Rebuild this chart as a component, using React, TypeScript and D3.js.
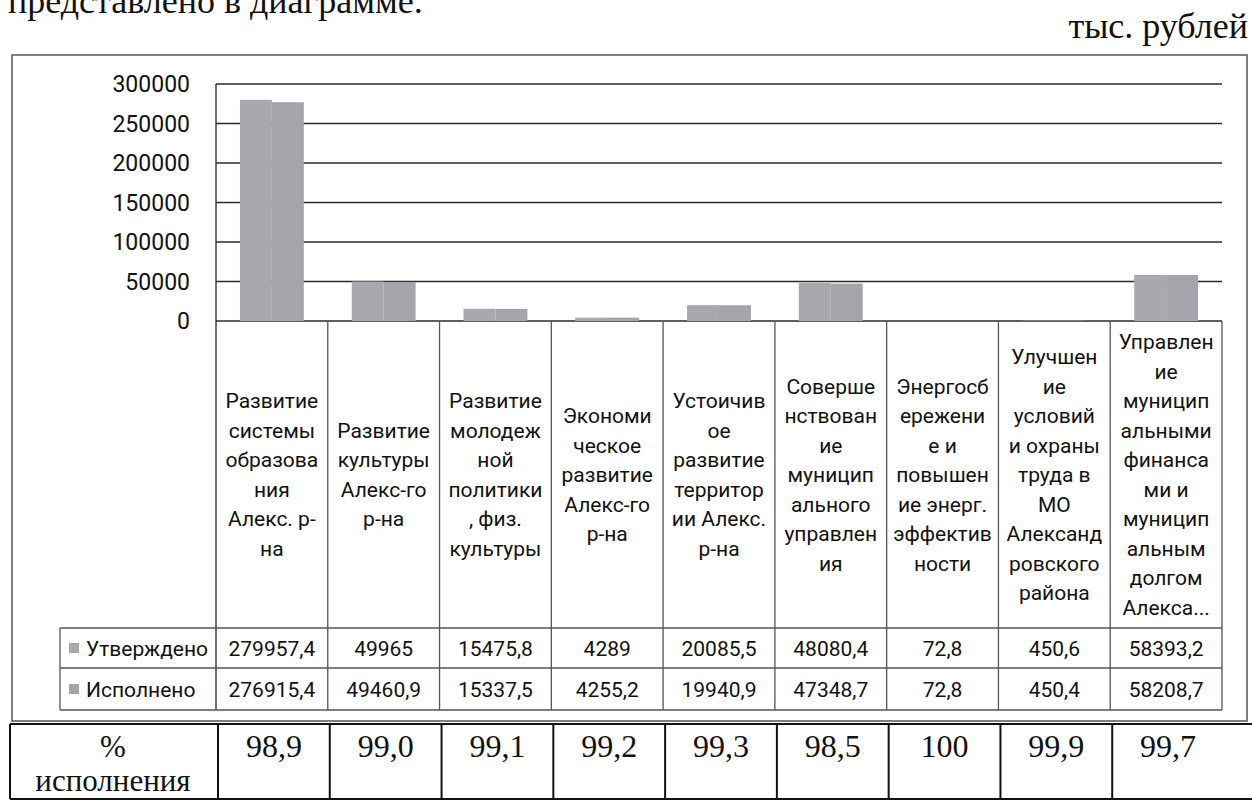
import * as d3 from 'd3';

// category labels, already wrapped the way Excel wrapped them
const categoryLines: string[][] = [
  ['Развитие', 'системы', 'образова', 'ния', 'Алекс. р-', 'на'],
  ['Развитие', 'культуры', 'Алекс-го', 'р-на'],
  ['Развитие', 'молодеж', 'ной', 'политики', ', физ.', 'культуры'],
  ['Экономи', 'ческое', 'развитие', 'Алекс-го', 'р-на'],
  ['Устоичив', 'ое', 'развитие', 'территор', 'ии Алекс.', 'р-на'],
  ['Соверше', 'нствован', 'ие', 'муницип', 'ального', 'управлен', 'ия'],
  ['Энергосб', 'ережени', 'е и', 'повышен', 'ие энерг.', 'эффектив', 'ности'],
  ['Улучшен', 'ие', 'условий', 'и охраны', 'труда в', 'МО', 'Александ', 'ровского', 'района'],
  ['Управлен', 'ие', 'муницип', 'альными', 'финанса', 'ми и', 'муницип', 'альным', 'долгом', 'Алекса...'],
];

const seriesNames = ['Утверждено', 'Исполнено'];
const approved = [279957.4, 49965, 15475.8, 4289, 20085.5, 48080.4, 72.8, 450.6, 58393.2];
const executed = [276915.4, 49460.9, 15337.5, 4255.2, 19940.9, 47348.7, 72.8, 450.4, 58208.7];
const percentDone = ['98,9', '99,0', '99,1', '99,2', '99,3', '98,5', '100', '99,9', '99,7'];

const W = 1252;
const H = 800;

const sans = 'Roboto, "Open Sans", sans-serif';
const serif = '"Liberation Serif", "Times New Roman", serif';

const fmt = (v: number) => String(v).replace('.', ',');

export default function App() {
  const plotLeft = 216;
  const plotRight = 1222;
  const plotTop = 84;
  const plotBottom = 321;
  const labelBottom = 628;
  const rowMid = 668;
  const tableBottom = 710;
  const legendLeft = 60;
  const pctTop = 724;
  const pctBottom = 799;

  const idx = categoryLines.map((_, i) => String(i));

  const x = d3.scaleBand().domain(idx).range([plotLeft, plotRight]).paddingInner(0).paddingOuter(0);
  const xs = d3.scaleBand().domain(seriesNames).range([0, x.bandwidth()]).paddingInner(0).paddingOuter(0.75);
  const y = d3.scaleLinear().domain([0, 300000]).range([plotBottom, plotTop]);
  const ticks = y.ticks(6);

  const series = [approved, executed];
  const barFill = ['#a8a8ae', '#a4a4aa'];
  const lineH = 29.5;
  const labelMid = (plotBottom + labelBottom) / 2;

  const boundaries = [...idx.map((i) => x(i)!), plotRight];

  return (
    <svg
      width={W}
      height={H}
      style={{ position: 'fixed', left: 0, top: 0, background: '#fff' }}
    >
      <rect x={0} y={0} width={W} height={H} fill="#fff" />

      {/* text above the chart, cut by the page edge as in the scan */}
      <text x={8} y={13} fontFamily={serif} fontSize={36} fill="#111">
        представлено в диаграмме.
      </text>
      <text x={1248} y={38} fontFamily={serif} fontSize={36} fill="#111" textAnchor="end">
        тыс. рублей
      </text>

      {/* chart frame */}
      <rect x={12} y={55} width={1235} height={666} fill="none" stroke="#555" strokeWidth={1.5} />

      {/* gridlines and y labels */}
      {ticks.map((t) => (
        <g key={t}>
          <line x1={plotLeft} x2={plotRight} y1={y(t)} y2={y(t)} stroke="#2a2a2a" strokeWidth={1.6} />
          <text
            x={190}
            y={y(t)}
            dy="0.36em"
            textAnchor="end"
            fontFamily={sans}
            fontSize={23}
            fill="#111"
          >
            {t}
          </text>
        </g>
      ))}

      {/* bars */}
      {series.map((vals, s) =>
        vals.map((v, i) => (
          <rect
            key={`${s}-${i}`}
            x={x(String(i))! + xs(seriesNames[s])!}
            y={y(v)}
            width={xs.bandwidth()}
            height={plotBottom - y(v)}
            fill={barFill[s]}
          />
        ))
      )}

      {/* axis line */}
      <line x1={plotLeft} x2={plotLeft} y1={plotTop} y2={tableBottom} stroke="#333" strokeWidth={1.4} />

      {/* data table grid */}
      {boundaries.slice(1).map((bx, i) => (
        <line key={i} x1={bx} x2={bx} y1={plotBottom} y2={tableBottom} stroke="#555" strokeWidth={1.3} />
      ))}
      <line x1={legendLeft} x2={plotRight} y1={labelBottom} y2={labelBottom} stroke="#555" strokeWidth={1.3} />
      <line x1={legendLeft} x2={plotRight} y1={rowMid} y2={rowMid} stroke="#555" strokeWidth={1.3} />
      <line x1={legendLeft} x2={plotRight} y1={tableBottom} y2={tableBottom} stroke="#555" strokeWidth={1.3} />
      <line x1={legendLeft} x2={legendLeft} y1={labelBottom} y2={tableBottom} stroke="#555" strokeWidth={1.3} />

      {/* category labels */}
      {categoryLines.map((lines, i) => {
        const cx = x(String(i))! + x.bandwidth() / 2;
        const start = labelMid - ((lines.length - 1) * lineH) / 2;
        return (
          <text key={i} textAnchor="middle" fontFamily={sans} fontSize={21} fill="#111">
            {lines.map((ln, k) => (
              <tspan key={k} x={cx} y={start + k * lineH} dy="0.36em">
                {ln}
              </tspan>
            ))}
          </text>
        );
      })}

      {/* legend keys and values */}
      {series.map((vals, s) => {
        const rowTop = s === 0 ? labelBottom : rowMid;
        const rowBot = s === 0 ? rowMid : tableBottom;
        const cy = (rowTop + rowBot) / 2;
        return (
          <g key={s}>
            <rect x={69} y={cy - 5} width={10} height={10} fill={barFill[s]} />
            <text x={86} y={cy} dy="0.36em" fontFamily={sans} fontSize={21} fill="#111">
              {seriesNames[s]}
            </text>
            {vals.map((v, i) => (
              <text
                key={i}
                x={x(String(i))! + x.bandwidth() / 2}
                y={cy}
                dy="0.36em"
                textAnchor="middle"
                fontFamily={sans}
                fontSize={21}
                fill="#111"
              >
                {fmt(v)}
              </text>
            ))}
          </g>
        );
      })}

      {/* percent table below the chart */}
      <g stroke="#111" strokeWidth={2}>
        <line x1={10} x2={1252} y1={pctTop} y2={pctTop} />
        <line x1={10} x2={1252} y1={pctBottom} y2={pctBottom} />
        <line x1={10} x2={10} y1={pctTop} y2={pctBottom} />
        {boundaries.slice(0, -1).map((bx, i) => (
          <line key={i} x1={bx + 2} x2={bx + 2} y1={pctTop} y2={pctBottom} />
        ))}
      </g>
      <text x={113} y={757} textAnchor="middle" fontFamily={serif} fontSize={31} fill="#111">
        %
      </text>
      <text x={113} y={791} textAnchor="middle" fontFamily={serif} fontSize={31} fill="#111">
        исполнения
      </text>
      {percentDone.map((p, i) => (
        <text
          key={i}
          x={x(String(i))! + x.bandwidth() / 2 + 2}
          y={757}
          textAnchor="middle"
          fontFamily={serif}
          fontSize={32}
          fill="#111"
        >
          {p}
        </text>
      ))}
    </svg>
  );
}
